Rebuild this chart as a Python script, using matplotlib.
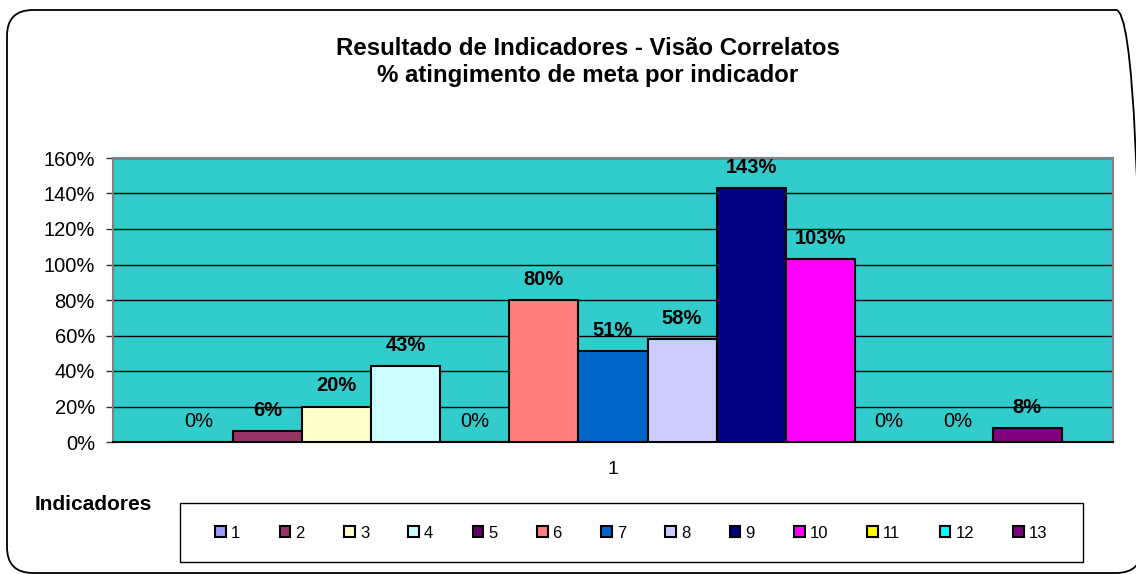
import matplotlib
matplotlib.use("Agg")
import matplotlib.pyplot as plt
from matplotlib.patches import FancyBboxPatch, Patch, Rectangle
from matplotlib.transforms import IdentityTransform
from matplotlib.ticker import FuncFormatter, MultipleLocator

plt.rcParams['font.family'] = ['Liberation Sans', 'DejaVu Sans']

series = ['1', '2', '3', '4', '5', '6', '7', '8', '9', '10', '11', '12', '13']
values = [0, 6, 20, 43, 0, 80, 51, 58, 143, 103, 0, 0, 8]
colors = ['#9999FF', '#993366', '#FFFFCC', '#CCFFFF', '#660066', '#FF8080',
          '#0066CC', '#CCCCFF', '#000080', '#FF00FF', '#FFFF00', '#00FFFF', '#800080']
category = ['1']
title = 'Resultado de Indicadores - Visão Correlatos\n% atingimento de meta por indicador'

W, H = 1136, 574
fig = plt.figure(figsize=(W / 100, H / 100), dpi=100)

# outer rounded frame (pixel coordinates)
frame = FancyBboxPatch((7, 1), 1135, H - 11, boxstyle='round,pad=0,rounding_size=26',
                       transform=IdentityTransform(), facecolor='none',
                       edgecolor='black', linewidth=1.3, zorder=-10)
fig.patches.append(frame)

ax = fig.add_axes([113 / W, (H - 442) / H, 1000 / W, 284 / H])
ax.set_facecolor('#33CCCC')

n = len(values)
xs = list(range(n))
bars = ax.bar(xs, values, width=1.0, color=colors, edgecolor='black', linewidth=1.5, zorder=3)

for x, v in zip(xs, values):
    ax.annotate(f'{v}%', (x, v), xytext=(0, 8), textcoords='offset points',
                ha='center', va='bottom', fontsize=14.5,
                fontweight='normal' if v == 0 else 'bold', color='black', zorder=5)

ax.set_ylim(0, 160)
ax.set_xlim(-0.5 - 0.74, n - 0.5 + 0.74)
ax.yaxis.set_major_locator(MultipleLocator(20))
ax.yaxis.set_major_formatter(FuncFormatter(lambda v, p: f'{int(v)}%'))
ax.yaxis.grid(True, color='black', linewidth=1.0, zorder=1)
ax.set_axisbelow(True)

ax.set_xticks([(n - 1) / 2])
ax.set_xticklabels(category)
ax.tick_params(axis='x', length=0, pad=14, labelsize=14)
ax.tick_params(axis='y', length=5, width=1, color='#333333', labelsize=14.5, pad=8)

for s in ['top', 'right', 'left']:
    ax.spines[s].set_color('#808080')
    ax.spines[s].set_linewidth(1.5)
ax.spines['bottom'].set_color('black')
ax.spines['bottom'].set_linewidth(1.5)

fig.text(588 / W, 1 - 62 / H, title, ha='center', va='center', fontsize=17.3,
         fontweight='bold', linespacing=1.25)

fig.text(35 / W, 1 - 505 / H, 'Indicadores', ha='left', va='center',
         fontsize=15, fontweight='bold')

# legend box
lbox = Rectangle((180, H - 562), 903, 59, transform=IdentityTransform(),
                 facecolor='white', edgecolor='black', linewidth=1.0, zorder=-5)
fig.patches.append(lbox)

handles = [Patch(facecolor=c, edgecolor='black', linewidth=1.5) for c in colors]
leg = fig.legend(handles, series, ncol=n, loc='center',
                 bbox_to_anchor=((180 + 1083) / 2 / W, 1 - 533 / H),
                 frameon=False, fontsize=12,
                 handlelength=0.65, handleheight=0.65, handletextpad=0.3,
                 columnspacing=2.35, borderpad=0.5)

fig.savefig('out.png', dpi=100)
